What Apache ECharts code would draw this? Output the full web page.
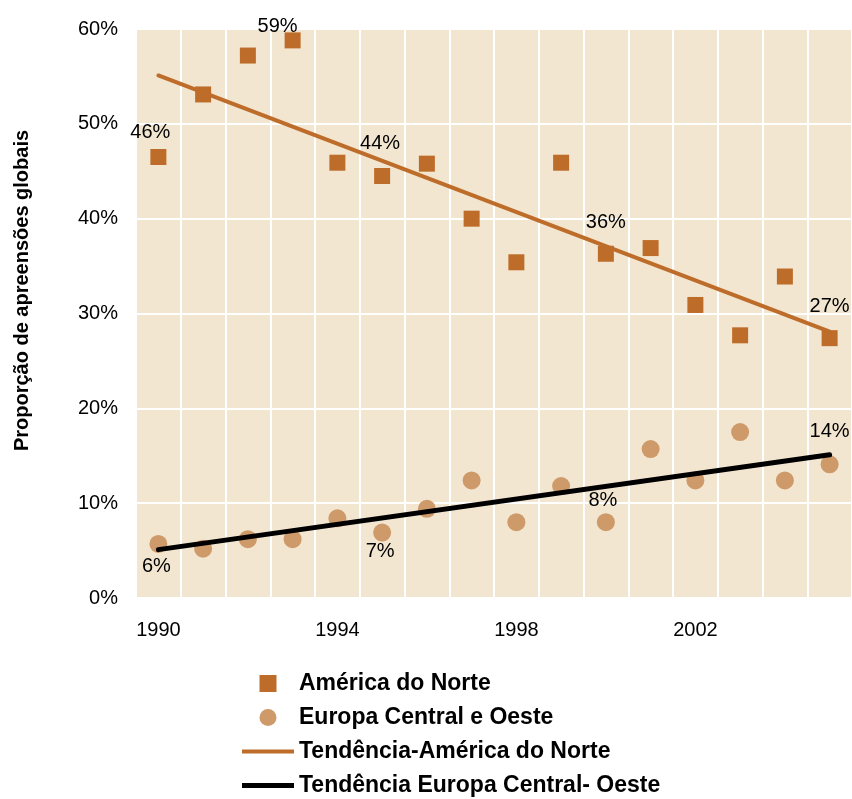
<!DOCTYPE html>
<html>
<head>
<meta charset="utf-8">
<script src="https://cdn.jsdelivr.net/npm/echarts@6/dist/echarts.min.js"></script>
<style>
  html, body { margin: 0; padding: 0; background: #fff; }
  #chart { width: 852px; height: 799px; }
</style>
</head>
<body>
<div id="chart"></div>
<script>
  // anos (eixo x)
  var years = ['1990', '1991', '1992', '1993', '1994', '1995', '1996', '1997',
               '1998', '1999', '2000', '2001', '2002', '2003', '2004', '2005'];
  // proporção de apreensões globais (%)
  var northAmerica = [46.5, 53.1, 57.2, 58.8, 45.9, 44.5, 45.8, 40.0,
                      35.4, 45.9, 36.3, 36.9, 30.9, 27.7, 33.9, 27.4];
  var europe = [5.7, 5.2, 6.2, 6.2, 8.4, 6.9, 9.4, 12.4,
                8.0, 11.8, 8.0, 15.7, 12.4, 17.5, 12.4, 14.1];
  // rótulos de dados
  var naLabels = ['46%', '', '', '59%', '', '44%', '', '', '', '', '36%', '', '', '', '', '27%'];
  var euLabels = ['6%', '', '', '', '', '7%', '', '', '', '', '8%', '', '', '', '', '14%'];
  // linhas de tendência (início e fim)
  var naTrend = [['1990', 55.1], ['2005', 28.1]];
  var euTrend = [['1990', 5.1], ['2005', 15.1]];

  var orange = '#BD6C29';
  var tan = '#CE9A69';
  var font = 'Liberation Sans, Arial, sans-serif';

  // deslocamento dos rótulos
  var naOffset = {0: [-8, -25], 3: [-15, -14], 5: [-2, -33], 10: [0, -31], 15: [0, -32]};
  var euOffset = {0: [-2, 23], 5: [-2, 19], 10: [-3, -22], 15: [0, -33]};

  function withLabels(values, labels, offsets) {
    return values.map(function (v, i) {
      var item = {value: v};
      if (labels[i]) {
        item.label = {
          show: true,
          position: 'inside',
          offset: offsets[i],
          formatter: labels[i],
          color: '#000',
          fontSize: 20,
          fontFamily: font
        };
      }
      return item;
    });
  }

  var chart = echarts.init(document.getElementById('chart'));
  chart.setOption({
    animation: false,
    backgroundColor: '#fff',
    grid: {
      left: 136, right: 0, top: 29, bottom: 201,
      show: true, backgroundColor: '#F2E6D0', borderWidth: 0
    },
    xAxis: {
      type: 'category',
      data: years,
      boundaryGap: true,
      axisLine: {show: false},
      axisTick: {show: false},
      axisLabel: {interval: 3, color: '#000', fontSize: 20, fontFamily: font, margin: 22},
      splitLine: {show: true, interval: 0, lineStyle: {color: '#fff', width: 2}}
    },
    yAxis: {
      type: 'value',
      min: 0, max: 60, interval: 10,
      name: 'Proporção de apreensões globais',
      nameLocation: 'middle',
      nameGap: 104,
      nameTextStyle: {
        color: '#000', fontSize: 20, fontWeight: 'bold', fontFamily: font,
        padding: [0, 0, 0, 46]
      },
      axisLine: {show: false},
      axisTick: {show: false},
      axisLabel: {formatter: '{value}%', color: '#000', fontSize: 20, fontFamily: font, margin: 18},
      splitLine: {lineStyle: {color: '#fff', width: 2}}
    },
    legend: {
      orient: 'vertical',
      left: 242,
      top: 672,
      height: 130,
      padding: 0,
      itemWidth: 52,
      itemHeight: 17,
      itemGap: 11,
      textStyle: {color: '#000', fontSize: 23, lineHeight: 23, fontWeight: 'bold', fontFamily: font},
      data: [
        {name: 'América do Norte', icon: 'path://M0,0H10V10H0Z'},
        {name: 'Europa Central e Oeste', icon: 'circle'},
        {name: 'Tendência-América do Norte', icon: 'path://M0,0H52V4H0Z'},
        {name: 'Tendência Europa Central- Oeste', icon: 'path://M0,0H52V5H0Z'}
      ]
    },
    series: [
      {
        name: 'América do Norte',
        type: 'scatter',
        symbol: 'rect',
        symbolSize: 16,
        itemStyle: {color: orange, opacity: 1},
        data: withLabels(northAmerica, naLabels, naOffset),
        z: 3
      },
      {
        name: 'Europa Central e Oeste',
        type: 'scatter',
        symbol: 'circle',
        symbolSize: 18,
        itemStyle: {color: tan, opacity: 1},
        data: withLabels(europe, euLabels, euOffset),
        z: 3
      },
      {
        name: 'Tendência-América do Norte',
        type: 'line',
        symbol: 'none',
        itemStyle: {color: orange},
        lineStyle: {color: orange, width: 4, cap: 'round'},
        data: naTrend,
        z: 4
      },
      {
        name: 'Tendência Europa Central- Oeste',
        type: 'line',
        symbol: 'none',
        itemStyle: {color: '#000'},
        lineStyle: {color: '#000', width: 5, cap: 'round'},
        data: euTrend,
        z: 4
      }
    ]
  });
</script>
</body>
</html>
